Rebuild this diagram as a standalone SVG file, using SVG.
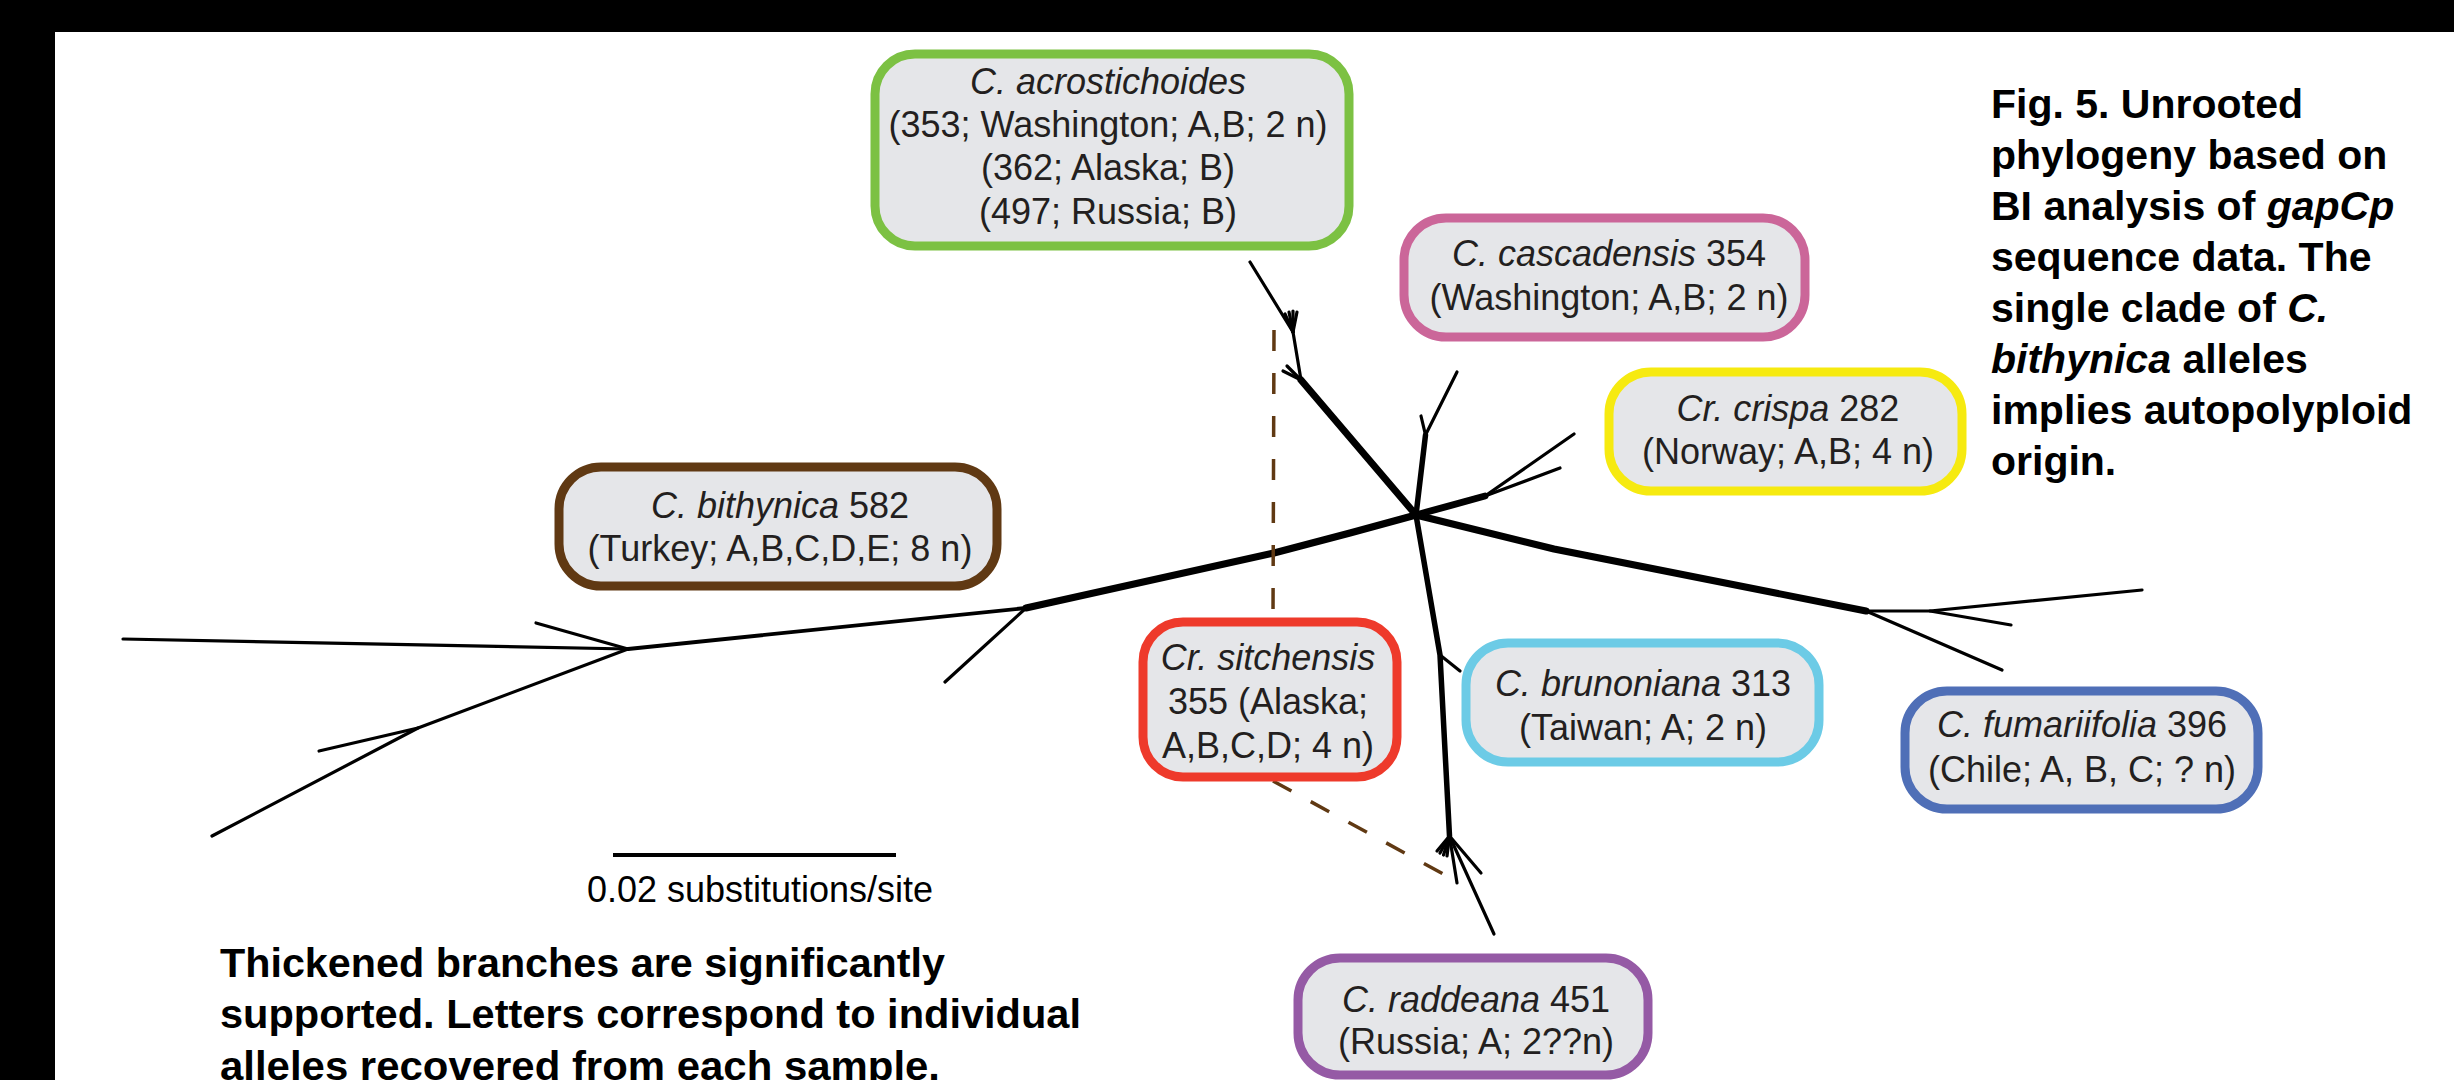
<svg xmlns="http://www.w3.org/2000/svg" width="2454" height="1080" viewBox="0 0 2454 1080">
<style>
.box{fill:#e5e6e9;stroke-width:9}
.lbl{font-family:"Liberation Sans",Arial,sans-serif;font-size:36px;fill:#231f20;text-anchor:middle}
.it{font-style:italic}
.br{stroke:#000;fill:none;stroke-linecap:round;stroke-linejoin:round}
.thin{stroke-width:3.2}
.thk{stroke-width:7}
.mid{stroke-width:5.5}
.dash{stroke:#603913;stroke-width:3.5;fill:none;stroke-dasharray:21 22}
.cap{font-family:"Liberation Sans",Arial,sans-serif;font-size:41px;font-weight:bold;fill:#000}
</style>
<rect x="0" y="0" width="2454" height="1080" fill="#fff"/>
<rect x="0" y="0" width="2454" height="32" fill="#000"/>
<rect x="0" y="0" width="55" height="1080" fill="#000"/>

<g id="tree">
  <polyline class="br thk" points="1416,515 1301,380"/>
  <polyline class="br thin" points="1301,380 1293,332"/>
  <polyline class="br thin" points="1301,380 1283,371"/>
  <polyline class="br thin" points="1301,380 1287,366"/>
  <polyline class="br thin" points="1293,332 1250,262"/>
  <polyline class="br thin" points="1293,332 1285,314"/>
  <polyline class="br thin" points="1293,332 1289,312"/>
  <polyline class="br thin" points="1293,332 1293,311"/>
  <polyline class="br thin" points="1293,332 1297,312"/>

  <polyline class="br mid" points="1416,515 1425.5,435"/>
  <polyline class="br thin" points="1425.5,435 1457,372"/>
  <polyline class="br thin" points="1425.5,435 1421,416"/>

  <polyline class="br thk" points="1416,515 1485,496"/>
  <polyline class="br thin" points="1485,496 1574,434"/>
  <polyline class="br thin" points="1485,496 1560,468"/>

  <polyline class="br thk" points="1416,515 1554,549 1866,611"/>
  <polyline class="br thin" points="1866,611 1930,611 2142,590"/>
  <polyline class="br thin" points="1930,611 2011,625"/>
  <polyline class="br thin" points="1866,611 2002,670"/>

  <polyline class="br mid" points="1416,515 1440,655 1449.5,836"/>
  <polyline class="br thin" points="1440,655 1460,671"/>
  <polyline class="br thin" points="1449.5,836 1457,883"/>
  <polyline class="br thin" points="1449.5,836 1481,873"/>
  <polyline class="br thin" points="1449.5,836 1494,934"/>
  <polyline class="br thin" points="1449.5,836 1437,851"/>
  <polyline class="br thin" points="1449.5,836 1440,853"/>
  <polyline class="br thin" points="1449.5,836 1443.5,855"/>
  <polyline class="br thin" points="1449.5,836 1447,856"/>

  <polyline class="br thk" points="1416,515 1350,533 1274,553 1026,608"/>
  <polyline class="br" stroke-width="3.8" points="1026,608 628,649"/>
  <polyline class="br thin" points="1026,608 945,682"/>
  <polyline class="br thin" points="628,649 123,639"/>
  <polyline class="br thin" points="628,649 536,623"/>
  <polyline class="br thin" points="628,649 418,728 212,836"/>
  <polyline class="br thin" points="418,728 319,751"/>
</g>

<g id="connectors">
  <line class="dash" x1="1274" y1="330" x2="1273" y2="617"/>
  <line class="dash" x1="1273" y1="781" x2="1445" y2="875"/>
</g>

<g id="acrostichoides">
  <rect class="box" x="875" y="54" width="474" height="192" rx="40" stroke="#7cc143"/>
  <text class="lbl" x="1108" y="94"><tspan class="it">C. acrostichoides</tspan></text>
  <text class="lbl" x="1108" y="137">(353; Washington; A,B; 2 n)</text>
  <text class="lbl" x="1108" y="180">(362; Alaska; B)</text>
  <text class="lbl" x="1108" y="224">(497; Russia; B)</text>
</g>

<g id="cascadensis">
  <rect class="box" x="1404" y="218" width="401" height="119" rx="42" stroke="#cb6699"/>
  <text class="lbl" x="1609" y="266"><tspan class="it">C. cascadensis</tspan> 354</text>
  <text class="lbl" x="1609" y="310">(Washington; A,B; 2 n)</text>
</g>

<g id="crispa">
  <rect class="box" x="1609" y="372" width="353" height="119" rx="42" stroke="#f6ea10"/>
  <text class="lbl" x="1788" y="421"><tspan class="it">Cr. crispa</tspan> 282</text>
  <text class="lbl" x="1788" y="464">(Norway; A,B; 4 n)</text>
</g>

<g id="bithynica">
  <rect class="box" x="559" y="467" width="438" height="119" rx="42" stroke="#603913"/>
  <text class="lbl" x="780" y="518"><tspan class="it">C. bithynica</tspan> 582</text>
  <text class="lbl" x="780" y="561">(Turkey; A,B,C,D,E; 8 n)</text>
</g>

<g id="sitchensis">
  <rect class="box" x="1143" y="622" width="254" height="155" rx="40" stroke="#ee3a2b"/>
  <text class="lbl" x="1268" y="670"><tspan class="it">Cr. sitchensis</tspan></text>
  <text class="lbl" x="1268" y="714">355 (Alaska;</text>
  <text class="lbl" x="1268" y="758">A,B,C,D; 4 n)</text>
</g>

<g id="brunoniana">
  <rect class="box" x="1466" y="643" width="353" height="119" rx="42" stroke="#6ccbe6"/>
  <text class="lbl" x="1643" y="696"><tspan class="it">C. brunoniana</tspan> 313</text>
  <text class="lbl" x="1643" y="740">(Taiwan; A; 2 n)</text>
</g>

<g id="fumariifolia">
  <rect class="box" x="1905" y="691" width="353" height="118" rx="42" stroke="#4f6fb7"/>
  <text class="lbl" x="2082" y="737"><tspan class="it">C. fumariifolia</tspan> 396</text>
  <text class="lbl" x="2082" y="782">(Chile; A, B, C; ? n)</text>
</g>

<g id="raddeana">
  <rect class="box" x="1298" y="958" width="350" height="117" rx="42" stroke="#955aa5"/>
  <text class="lbl" x="1476" y="1012"><tspan class="it">C. raddeana</tspan> 451</text>
  <text class="lbl" x="1476" y="1054">(Russia; A; 2??n)</text>
</g>

<g id="scale">
  <line x1="613" y1="855" x2="896" y2="855" stroke="#000" stroke-width="4"/>
  <text class="lbl" x="760" y="902" style="fill:#000">0.02 substitutions/site</text>
</g>

<g id="note">
  <text class="cap" x="220" y="977" textLength="725" lengthAdjust="spacingAndGlyphs">Thickened branches are significantly</text>
  <text class="cap" x="220" y="1028" textLength="861" lengthAdjust="spacingAndGlyphs">supported. Letters correspond to individual</text>
  <text class="cap" x="220" y="1080" textLength="720" lengthAdjust="spacingAndGlyphs">alleles recovered from each sample.</text>
</g>

<g id="caption">
  <text class="cap" x="1991" y="118">Fig. 5. Unrooted</text>
  <text class="cap" x="1991" y="169">phylogeny based on</text>
  <text class="cap" x="1991" y="220">BI analysis of <tspan class="it">gapCp</tspan></text>
  <text class="cap" x="1991" y="271">sequence data. The</text>
  <text class="cap" x="1991" y="322">single clade of <tspan class="it">C.</tspan></text>
  <text class="cap" x="1991" y="373"><tspan class="it">bithynica</tspan> alleles</text>
  <text class="cap" x="1991" y="424">implies autopolyploid</text>
  <text class="cap" x="1991" y="475">origin.</text>
</g>
</svg>
